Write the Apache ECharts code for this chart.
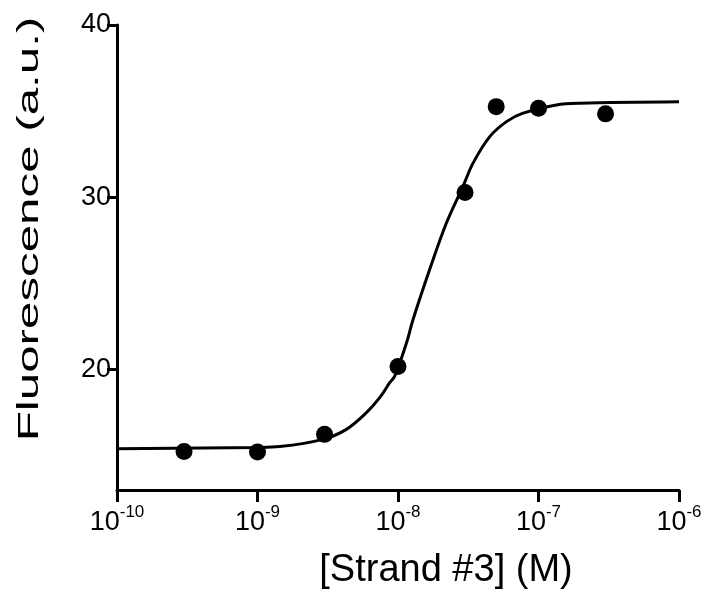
<!DOCTYPE html>
<html>
<head>
<meta charset="utf-8">
<script src="https://cdn.jsdelivr.net/npm/echarts@6/dist/echarts.min.js"></script>
<style>
html, body { margin: 0; padding: 0; background: #fff; }
#chart { width: 710px; height: 595px; }
</style>
</head>
<body>
<div id="chart"></div>
<script>
// measured points
const concX = [3e-10, 1e-9, 3e-9, 1e-8, 3e-8, 5e-8, 1e-7, 3e-7]
const fluo = [15.23, 15.21, 16.23, 20.17, 30.28, 35.26, 35.17, 34.84]

// fitted curve
const curveX = [1e-10, 1e-9, 1.44e-9, 2.92e-9, 4.29e-9, 5.96e-9, 7.41e-9, 8.73e-9, 9.48e-9, 1.15e-8, 1.28e-8, 1.68e-8, 2.21e-8, 2.9e-8, 3.42e-8, 4.5e-8, 5.92e-8, 7.76e-8, 1.34e-7, 1.97e-7, 1e-6]
const curveY = [15.40, 15.47, 15.52, 15.94, 16.52, 17.49, 18.36, 19.23, 19.61, 21.55, 22.90, 25.80, 28.50, 30.63, 31.98, 33.52, 34.39, 34.88, 35.36, 35.46, 35.54]

// ticks
const xTicks = [1e-10, 1e-9, 1e-8, 1e-7, 1e-6]
const xTickExp = ['-10', '-9', '-8', '-7', '-6']
const yTicks = [20, 30, 40]

const font = '"Liberation Sans", Arial, sans-serif'
const chart = echarts.init(document.getElementById('chart'))

chart.setOption({
  animation: false,
  backgroundColor: '#fff',
  grid: { left: 117, right: 31, top: 25, bottom: 105 },
  xAxis: {
    type: 'log',
    logBase: 10,
    min: 1e-10,
    max: 1e-6,
    axisLine: { lineStyle: { color: '#000', width: 3 } },
    axisTick: { length: 12, lineStyle: { color: '#000', width: 3 } },
    splitLine: { show: false },
    minorTick: { show: false },
    axisLabel: {
      margin: 14,
      formatter: (v) => {
        const i = xTicks.findIndex((t) => Math.abs(Math.log10(t) - Math.log10(v)) < 1e-6)
        return i < 0 ? '' : '{b|10}{s|' + xTickExp[i] + '}'
      },
      rich: {
        b: { fontFamily: font, fontSize: 27, color: '#000', lineHeight: 32, verticalAlign: 'bottom' },
        s: { fontFamily: font, fontSize: 17, color: '#000', lineHeight: 17, verticalAlign: 'top' },
      },
    },
    name: '[Strand #3] (M)',
    nameLocation: 'middle',
    nameGap: 62,
    nameTextStyle: { fontFamily: font, fontSize: 38, color: '#000', padding: [0, 0, 0, 96] },
  },
  yAxis: {
    type: 'value',
    min: 13,
    max: 40,
    axisLine: { show: true, lineStyle: { color: '#000', width: 3 } },
    axisTick: { show: true, length: 10, customValues: yTicks, lineStyle: { color: '#000', width: 3 } },
    axisLabel: { customValues: yTicks, margin: 6, fontFamily: font, fontSize: 27, color: '#000' },
    splitLine: { show: false },
  },
  graphic: [
    {
      type: 'text',
      x: 30,
      y: 229,
      rotation: Math.PI / 2,
      scaleX: 1.7,
      style: {
        text: 'Fluorescence (a.u.)',
        fontFamily: font,
        fontSize: 29,
        fill: '#000',
        align: 'center',
        verticalAlign: 'middle',
      },
    },
  ],
  series: [
    {
      type: 'line',
      data: curveX.map((x, i) => [x, curveY[i]]),
      smooth: 0.35,
      showSymbol: false,
      lineStyle: { color: '#000', width: 3 },
      z: 2,
    },
    {
      type: 'scatter',
      data: concX.map((x, i) => [x, fluo[i]]),
      symbolSize: 17,
      itemStyle: { color: '#000', opacity: 1 },
      z: 3,
    },
  ],
})
</script>
</body>
</html>
